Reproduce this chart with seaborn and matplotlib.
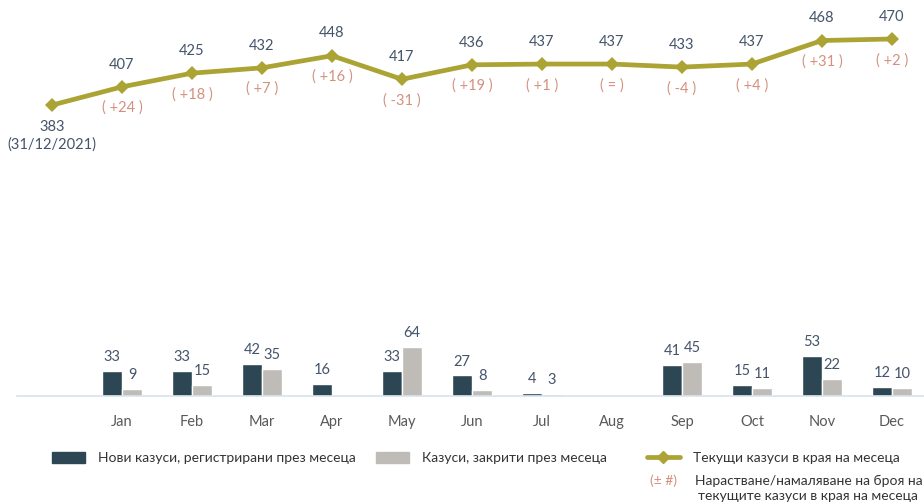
import pandas as pd
import matplotlib.pyplot as plt
import seaborn as sns
from matplotlib.patches import Patch
from matplotlib.lines import Line2D

# данни
months = ['Jan', 'Feb', 'Mar', 'Apr', 'May', 'Jun', 'Jul', 'Aug', 'Sep', 'Oct', 'Nov', 'Dec']
new_cases = [33, 33, 42, 16, 33, 27, 4, None, 41, 15, 53, 12]
closed_cases = [9, 15, 35, None, 64, 8, 3, None, 45, 11, 22, 10]
open_cases = [383, 407, 425, 432, 448, 417, 436, 437, 437, 433, 437, 468, 470]
changes = ['(+24)', '(+18)', '(+7)', '(+16)', '(-31)', '(+19)', '(+1)', '(=)', '(-4)', '(+4)', '(+31)', '(+2)']

C_NEW = '#2C4653'
C_CLOSED = '#BFBCB8'
C_LINE = '#ABA333'
C_TXT = '#44546A'
C_CHG = '#D4907F'

sns.set_style('white')
plt.rcParams['font.family'] = ['Lato', 'DejaVu Sans']

lbl_new = 'Нови казуси, регистрирани през месеца'
lbl_closed = 'Казуси, закрити през месеца'
lbl_line = 'Текущи казуси в края на месеца'
df = pd.DataFrame({
    'month': months * 2,
    'value': new_cases + closed_cases,
    'series': [lbl_new] * 12 + [lbl_closed] * 12,
})
order = ['start'] + months

fig = plt.figure(figsize=(9.24, 5.04), dpi=100)
ax = fig.add_axes([17 / 924, 1 - 396 / 504, 910 / 924, 376 / 504])

sns.barplot(data=df, x='month', y='value', hue='series', order=order,
            palette=[C_NEW, C_CLOSED], width=0.572, gap=0, saturation=1,
            legend=False, ax=ax)

# стойности над колоните
for cont in ax.containers:
    labels = [('' if (v != v) else f'{int(v)}') for v in cont.datavalues]
    ax.bar_label(cont, labels=labels, padding=5, color=C_TXT, fontsize=10.5)

pos = list(range(len(open_cases)))
sns.lineplot(x=pos, y=open_cases, color=C_LINE, linewidth=3.4, marker='D',
             markersize=7, markeredgewidth=0, ax=ax)

for i, v in enumerate(open_cases):
    if i == 0:
        ax.annotate(f'{v}\n(31/12/2021)', (i, v), xytext=(0, -11), textcoords='offset points',
                    ha='center', va='top', color=C_TXT, fontsize=10.5, linespacing=1.25)
    else:
        ax.annotate(str(v), (i, v), xytext=(0, 11), textcoords='offset points',
                    ha='center', va='bottom', color=C_TXT, fontsize=10.5)
        ax.annotate(changes[i - 1].replace('(', '( ').replace(')', ' )'), (i, v),
                    xytext=(0, -10), textcoords='offset points',
                    ha='center', va='top', color=C_CHG, fontsize=10.5)

ax.set_xlim(-0.5, 12.5)
ax.set_ylim(0, 495)
ax.set_xticks(range(1, 13))
ax.set_xticklabels(months, color='#595959', fontsize=10.5)
ax.tick_params(axis='x', length=0, pad=14)
ax.set_yticks([])
ax.set_xlabel('')
ax.set_ylabel('')
sns.despine(ax=ax, left=True)
ax.spines['bottom'].set_color('#D5E3EC')
ax.spines['bottom'].set_linewidth(1.2)

# легенда - всеки елемент поотделно
items = [
    (Patch(color=C_NEW, label=lbl_new), 52),
    (Patch(color=C_CLOSED, label=lbl_closed), 376),
    (Line2D([0], [0], color=C_LINE, linewidth=3.4, marker='D', markersize=6, label=lbl_line), 647),
]
for h, x0 in items:
    fig.legend(handles=[h], loc='center left', bbox_to_anchor=(x0 / 924, 1 - 458 / 504),
               frameon=False, fontsize=10, handlelength=2.35, handleheight=0.8,
               handletextpad=0.95, borderpad=0, borderaxespad=0, labelcolor='#333333')
fig.text(663 / 924, 1 - 481 / 504, '(± #)', ha='center', va='center', color=C_CHG, fontsize=10)
fig.text(695 / 924, 1 - 481 / 504, 'Нарастване/намаляване на броя на',
         ha='left', va='center', color='#333333', fontsize=10)
fig.text(698 / 924, 1 - 496 / 504, 'текущите казуси в края на месеца',
         ha='left', va='center', color='#333333', fontsize=10)

fig.savefig('out.png', dpi=100)
